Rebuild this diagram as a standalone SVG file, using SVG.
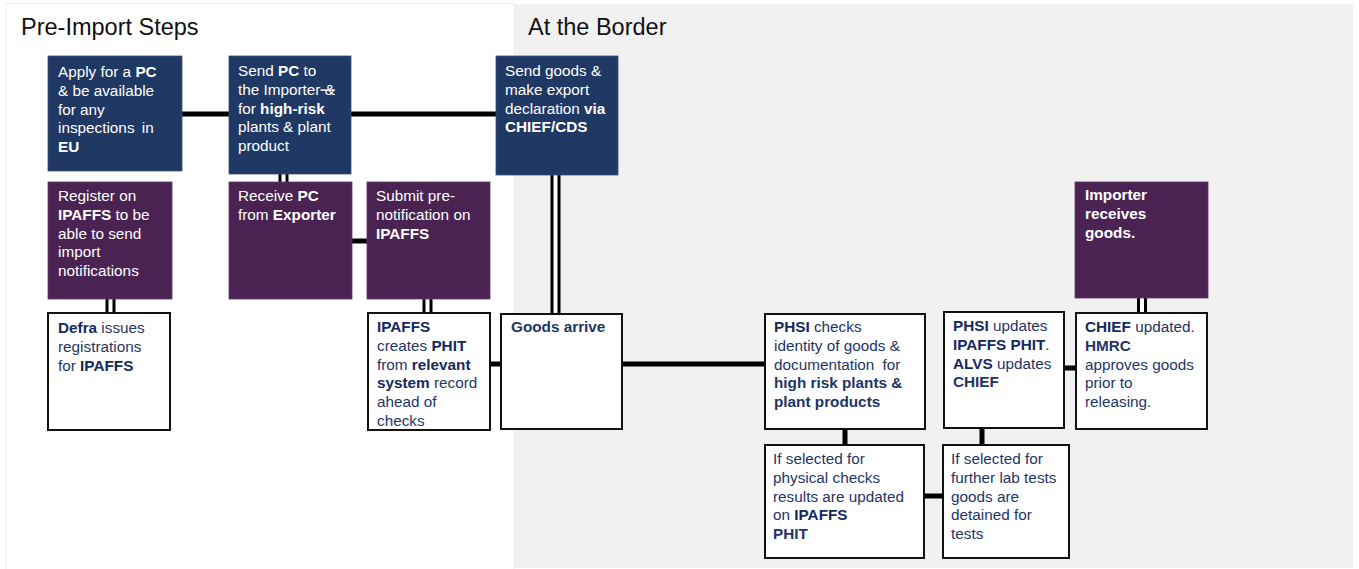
<svg xmlns="http://www.w3.org/2000/svg" width="1359" height="569" viewBox="0 0 1359 569">
<style>
  text { font-family: "Liberation Sans", Arial, sans-serif; font-size: 15.3px; }
  .title { font-size: 23.5px; fill: #111111; }
  .navy { fill: #1f3864; stroke: #3a4f7a; stroke-width: 0.8; }
  .purple { fill: #4a2352; stroke: #5d3a66; stroke-width: 0.8; }
  .white { fill: #ffffff; stroke: #111111; stroke-width: 2; }
  .lt { fill: #ffffff; }
  .dk { fill: #1f3566; }
  .b { font-weight: bold; }
  .dk .b { fill: #142a5e; }
  .conn line { stroke: #000000; stroke-width: 5; }
  .conn line.dbl-out { stroke: #000000; stroke-width: 10; }
  .conn line.dbl-in { stroke: #ffffff; stroke-width: 4; }
</style>
<rect x="0" y="0" width="1359" height="569" fill="#ffffff"/>
<g id="panel-pre">
  <rect x="6" y="3.5" width="508" height="566" fill="#ffffff" stroke="#ececec" stroke-width="1"/>
  <text class="title" x="21" y="35">Pre-Import Steps</text>
</g>
<g id="panel-border">
  <rect x="514" y="4" width="839" height="564" fill="#f1f1f1"/>
  <text class="title" x="528" y="35">At the Border</text>
</g>
<g class="conn" id="connectors">
  <line x1="182" y1="114" x2="229" y2="114"/>
  <line x1="351" y1="114" x2="496" y2="114"/>
  <line x1="352" y1="241" x2="367" y2="241"/>
  <line x1="491" y1="364" x2="500" y2="364"/>
  <line x1="623" y1="364" x2="764" y2="364"/>
  <line x1="845" y1="430" x2="845" y2="444"/>
  <line x1="982" y1="429" x2="982" y2="444"/>
  <line x1="925" y1="496" x2="942" y2="496"/>
  <line x1="1065" y1="368" x2="1075" y2="368"/>
  <line class="dbl-out" x1="283.5" y1="174" x2="283.5" y2="182"/>
  <line class="dbl-in" x1="283.5" y1="174" x2="283.5" y2="182"/>
  <line class="dbl-out" x1="110.5" y1="299" x2="110.5" y2="312"/>
  <line class="dbl-in" x1="110.5" y1="299" x2="110.5" y2="312"/>
  <line class="dbl-out" x1="427.5" y1="299" x2="427.5" y2="312"/>
  <line class="dbl-in" x1="427.5" y1="299" x2="427.5" y2="312"/>
  <line class="dbl-out" x1="555.5" y1="175" x2="555.5" y2="313"/>
  <line class="dbl-in" x1="555.5" y1="175" x2="555.5" y2="313"/>
  <line class="dbl-out" x1="1142" y1="298" x2="1142" y2="312"/>
  <line class="dbl-in" x1="1142" y1="298" x2="1142" y2="312"/>
</g>
<g id="apply-pc">
  <rect class="navy" x="48" y="56" width="134" height="115"/>
  <text class="lt" x="58" y="77">Apply for a <tspan class="b">PC</tspan></text>
  <text class="lt" x="58" y="95.8">&amp; be available</text>
  <text class="lt" x="58" y="114.6">for any</text>
  <text class="lt" x="58" y="133.4" word-spacing="3">inspections in</text>
  <text class="lt b" x="58" y="152.2">EU</text>
</g>
<g id="send-pc">
  <rect class="navy" x="229" y="56" width="122" height="118"/>
  <text class="lt" x="238" y="76">Send <tspan class="b">PC</tspan> to</text>
  <text class="lt" x="238" y="94.8">the Importer<tspan text-decoration="line-through"> &amp;</tspan></text>
  <text class="lt" x="238" y="113.6">for <tspan class="b">high-risk</tspan></text>
  <text class="lt" x="238" y="132.4">plants &amp; plant</text>
  <text class="lt" x="238" y="151.2">product</text>
</g>
<g id="send-goods">
  <rect class="navy" x="496" y="56" width="122" height="119"/>
  <text class="lt" x="505" y="76">Send goods &amp;</text>
  <text class="lt" x="505" y="94.8">make export</text>
  <text class="lt" x="505" y="113.6">declaration <tspan class="b">via</tspan></text>
  <text class="lt b" x="505" y="132.4">CHIEF/CDS</text>
</g>
<g id="register-ipaffs">
  <rect class="purple" x="48" y="182" width="124" height="117"/>
  <text class="lt" x="58" y="201">Register on</text>
  <text class="lt" x="58" y="219.8"><tspan class="b">IPAFFS</tspan> to be</text>
  <text class="lt" x="58" y="238.6">able to send</text>
  <text class="lt" x="58" y="257.4">import</text>
  <text class="lt" x="58" y="276.2">notifications</text>
</g>
<g id="receive-pc">
  <rect class="purple" x="229" y="182" width="123" height="117"/>
  <text class="lt" x="238" y="201">Receive <tspan class="b">PC</tspan></text>
  <text class="lt" x="238" y="219.8">from <tspan class="b">Exporter</tspan></text>
</g>
<g id="submit-prenotification">
  <rect class="purple" x="367" y="182" width="123" height="117"/>
  <text class="lt" x="376" y="201">Submit pre-</text>
  <text class="lt" x="376" y="219.8">notification on</text>
  <text class="lt b" x="376" y="238.6">IPAFFS</text>
</g>
<g id="defra-issues">
  <rect class="white" x="48" y="313" width="122" height="117"/>
  <text class="dk" x="58" y="333"><tspan class="b">Defra</tspan> issues</text>
  <text class="dk" x="58" y="351.8">registrations</text>
  <text class="dk" x="58" y="370.6">for <tspan class="b">IPAFFS</tspan></text>
</g>
<g id="ipaffs-creates-phit">
  <rect class="white" x="368" y="313" width="122" height="117"/>
  <text class="dk" x="377" y="332"><tspan class="b">IPAFFS</tspan></text>
  <text class="dk" x="377" y="350.8">creates <tspan class="b">PHIT</tspan></text>
  <text class="dk" x="377" y="369.6">from <tspan class="b">relevant</tspan></text>
  <text class="dk" x="377" y="388.4"><tspan class="b">system</tspan> record</text>
  <text class="dk" x="377" y="407.2">ahead of</text>
  <text class="dk" x="377" y="426">checks</text>
</g>
<g id="goods-arrive">
  <rect class="white" x="501" y="314" width="121" height="115"/>
  <text class="dk b" x="511" y="332">Goods arrive</text>
</g>
<g id="phsi-checks">
  <rect class="white" x="765" y="314" width="160" height="115"/>
  <text class="dk" x="774" y="332"><tspan class="b">PHSI</tspan> checks</text>
  <text class="dk" x="774" y="350.8">identity of goods &amp;</text>
  <text class="dk" x="774" y="369.6" word-spacing="4">documentation for</text>
  <text class="dk b" x="774" y="388.4">high risk plants &amp;</text>
  <text class="dk b" x="774" y="407.2">plant products</text>
</g>
<g id="physical-checks">
  <rect class="white" x="765" y="445" width="159" height="113"/>
  <text class="dk" x="773" y="464">If selected for</text>
  <text class="dk" x="773" y="482.8">physical checks</text>
  <text class="dk" x="773" y="501.6">results are updated</text>
  <text class="dk" x="773" y="520.4">on <tspan class="b">IPAFFS</tspan></text>
  <text class="dk b" x="773" y="539.2">PHIT</text>
</g>
<g id="phsi-updates">
  <rect class="white" x="944" y="312" width="120" height="116"/>
  <text class="dk" x="953" y="331"><tspan class="b">PHSI</tspan> updates</text>
  <text class="dk" x="953" y="349.8"><tspan class="b">IPAFFS PHIT</tspan>.</text>
  <text class="dk" x="953" y="368.6"><tspan class="b">ALVS</tspan> updates</text>
  <text class="dk b" x="953" y="387.4">CHIEF</text>
</g>
<g id="lab-tests">
  <rect class="white" x="943" y="445" width="126" height="113"/>
  <text class="dk" x="951" y="464">If selected for</text>
  <text class="dk" x="951" y="482.8">further lab tests</text>
  <text class="dk" x="951" y="501.6">goods are</text>
  <text class="dk" x="951" y="520.4">detained for</text>
  <text class="dk" x="951" y="539.2">tests</text>
</g>
<g id="importer-receives">
  <rect class="purple" x="1075" y="182" width="133" height="116"/>
  <text class="lt b" x="1085" y="200">Importer</text>
  <text class="lt b" x="1085" y="218.8">receives</text>
  <text class="lt b" x="1085" y="237.6">goods.</text>
</g>
<g id="chief-updated">
  <rect class="white" x="1076" y="313" width="131" height="116"/>
  <text class="dk" x="1085" y="332"><tspan class="b">CHIEF</tspan> updated.</text>
  <text class="dk b" x="1085" y="350.8">HMRC</text>
  <text class="dk" x="1085" y="369.6">approves goods</text>
  <text class="dk" x="1085" y="388.4">prior to</text>
  <text class="dk" x="1085" y="407.2">releasing.</text>
</g>
</svg>
